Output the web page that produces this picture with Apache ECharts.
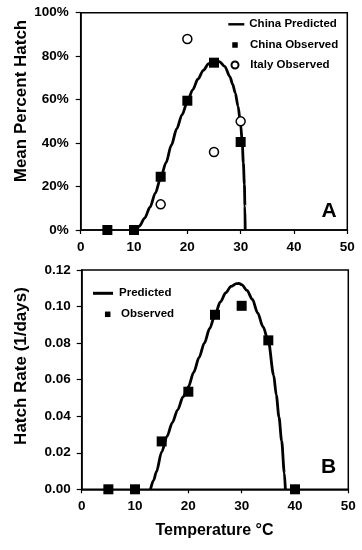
<!DOCTYPE html>
<html>
<head>
<meta charset="utf-8">
<script src="https://cdn.jsdelivr.net/npm/echarts@6.0.0/dist/echarts.min.js"></script>
<style>
html,body{margin:0;padding:0;background:#fff;}
#chart{width:362px;height:550px;}
</style>
</head>
<body>
<div id="chart"></div>
<script>
// ---- Panel A data (Mean Percent Hatch, %) ----
var tempsObs = [5, 10, 15, 20, 25, 30];
var chinaObservedA = [0, 0, 24.5, 59.5, 77, 40.5];
var italyTemps = [15, 20, 25, 30];
var italyObservedA = [11.8, 87.9, 35.9, 50];
var chinaPredTempsA = [10.5, 11, 12, 13, 14, 15, 16, 17, 18, 19, 20, 21, 22, 23, 24, 25, 26, 27, 28, 28.5, 29, 29.5, 30, 30.3, 30.5, 30.7, 30.8, 30.85];
var chinaPredValsA  = [0, 1.8, 5.5, 10.5, 17, 24, 31, 39, 46.5, 53, 59, 64.5, 69.5, 73.5, 76.5, 77.8, 77.5, 75.3, 70.5, 67, 63, 57, 48.5, 40, 31, 21, 11, 0];

// ---- Panel B data (Hatch Rate, 1/days) ----
var tempsObsB = [5, 10, 15, 20, 25, 30, 35, 40];
var observedB = [0, 0, 0.0262, 0.0534, 0.0955, 0.1004, 0.0815, 0];
var predTempsB = [12.9, 13.5, 14, 15, 16, 17, 18, 19, 20, 21, 22, 23, 24, 25, 26, 27, 28, 29, 29.5, 30, 31, 32, 33, 34, 35, 36, 36.5, 37, 37.5, 38, 38.2];
var predValsB  = [0, 0.005, 0.0095, 0.0205, 0.029, 0.0365, 0.0435, 0.0505, 0.056, 0.064, 0.072, 0.080, 0.088, 0.0955, 0.1025, 0.1075, 0.111, 0.1125, 0.1127, 0.112, 0.1088, 0.104, 0.0965, 0.089, 0.0812, 0.0625, 0.0515, 0.0395, 0.0265, 0.009, 0];

// ---- tick labels ----
var xTicks = [0, 10, 20, 30, 40, 50];
var yTicksA = [0, 20, 40, 60, 80, 100];
var yTicksB = [0, 0.02, 0.04, 0.06, 0.08, 0.10, 0.12];

function pairs(xs, ys) { return xs.map(function (x, i) { return [x, ys[i]]; }); }

var FONT = '"Liberation Sans", Arial, sans-serif';
var black = '#000';
var LINE_ICON = 'path://M0,0H20V3H0Z';

function xAxisCfg(gi) {
  return {
    type: 'value', gridIndex: gi, min: xTicks[0], max: xTicks[xTicks.length - 1], interval: 10,
    axisLine: { show: true, onZero: false, lineStyle: { color: black, width: 1.5 } },
    axisTick: { show: true, inside: false, length: 4, lineStyle: { color: black, width: 1.2 } },
    axisLabel: { color: black, fontFamily: FONT, fontWeight: 'bold', fontSize: 13.5, margin: 10 },
    splitLine: { show: false }
  };
}
function legendText(pad) {
  return { color: black, fontFamily: FONT, fontWeight: 'bold', fontSize: 11.5, lineHeight: 14, padding: [0, 0, 0, pad] };
}

var option = {
  backgroundColor: '#fff',
  animation: false,
  textStyle: { fontFamily: FONT },
  grid: [
    { left: 80.7, right: 14.7, top: 12.7, height: 217.3, show: true, borderColor: black, borderWidth: 1.5, backgroundColor: 'transparent' },
    { left: 81.7, right: 13.7, top: 270, height: 219.3, show: true, borderColor: black, borderWidth: 1.5, backgroundColor: 'transparent' }
  ],
  xAxis: [xAxisCfg(0), xAxisCfg(1)],
  yAxis: [
    {
      type: 'value', gridIndex: 0, min: yTicksA[0], max: yTicksA[yTicksA.length - 1], interval: 20,
      axisLine: { show: true, lineStyle: { color: black, width: 1.5 } },
      axisTick: { show: true, inside: false, length: 5, lineStyle: { color: black, width: 1.2 } },
      axisLabel: { color: black, fontFamily: FONT, fontWeight: 'bold', fontSize: 13.5, margin: 12, formatter: '{value}%' },
      splitLine: { show: false }
    },
    {
      type: 'value', gridIndex: 1, min: yTicksB[0], max: yTicksB[yTicksB.length - 1], interval: 0.02,
      axisLine: { show: true, lineStyle: { color: black, width: 1.5 } },
      axisTick: { show: true, inside: false, length: 5, lineStyle: { color: black, width: 1.2 } },
      axisLabel: { color: black, fontFamily: FONT, fontWeight: 'bold', fontSize: 13.5, margin: 11,
        formatter: function (v) { return v.toFixed(2); } },
      splitLine: { show: false }
    }
  ],
  legend: [
    { data: [{ name: 'China Predicted', icon: LINE_ICON }], left: 228.3, top: 17.3, padding: 0, itemWidth: 16, itemHeight: 3,
      itemStyle: { color: black, opacity: 1 }, textStyle: legendText(0) },
    { data: [{ name: 'China Observed', icon: 'rect' }], left: 232.25, top: 38, padding: 0, itemWidth: 5.5, itemHeight: 5.5,
      itemStyle: { opacity: 1 }, textStyle: legendText(7.25) },
    { data: [{ name: 'Italy Observed', icon: 'circle' }], left: 230.5, top: 58, padding: 0, itemWidth: 7, itemHeight: 7,
      itemStyle: { opacity: 1 }, textStyle: legendText(6.8) },
    { data: [{ name: 'Predicted', icon: LINE_ICON }], left: 93, top: 286.3, padding: 0, itemWidth: 22, itemHeight: 3,
      itemStyle: { color: black, opacity: 1 }, textStyle: legendText(0) },
    { data: [{ name: 'Observed', icon: 'rect' }], left: 104.95, top: 307.3, padding: 0, itemWidth: 5.5, itemHeight: 5.5,
      itemStyle: { opacity: 1 }, textStyle: legendText(5.55) }
  ],
  series: [
    { name: 'China Predicted', type: 'line', xAxisIndex: 0, yAxisIndex: 0, data: pairs(chinaPredTempsA, chinaPredValsA),
      showSymbol: false, symbol: 'none', smooth: 0.3, smoothMonotone: 'x', clip: false,
      lineStyle: { color: black, width: 2.8 }, itemStyle: { color: black }, z: 2 },
    { name: 'China Observed', type: 'scatter', xAxisIndex: 0, yAxisIndex: 0, data: pairs(tempsObs, chinaObservedA),
      symbol: 'rect', symbolSize: 10, clip: false, itemStyle: { color: black, opacity: 1 }, z: 3 },
    { name: 'Italy Observed', type: 'scatter', xAxisIndex: 0, yAxisIndex: 0, data: pairs(italyTemps, italyObservedA),
      symbol: 'circle', symbolSize: 9, clip: false, itemStyle: { color: '#fff', borderColor: black, borderWidth: 1.5, opacity: 1 }, z: 3 },
    { name: 'Predicted', type: 'line', xAxisIndex: 1, yAxisIndex: 1, data: pairs(predTempsB, predValsB),
      showSymbol: false, symbol: 'none', smooth: 0.3, smoothMonotone: 'x', clip: false,
      lineStyle: { color: black, width: 2.8 }, itemStyle: { color: black }, z: 2 },
    { name: 'Observed', type: 'scatter', xAxisIndex: 1, yAxisIndex: 1, data: pairs(tempsObsB, observedB),
      symbol: 'rect', symbolSize: 10, clip: false, itemStyle: { color: black, opacity: 1 }, z: 3 }
  ],
  graphic: [
    { type: 'text', x: 21, y: 101, rotation: Math.PI / 2,
      style: { text: 'Mean Percent Hatch', font: 'bold 17px ' + FONT, fill: black, textAlign: 'center', textVerticalAlign: 'middle' } },
    { type: 'text', x: 21, y: 366, rotation: Math.PI / 2,
      style: { text: 'Hatch Rate (1/days)', font: 'bold 17px ' + FONT, fill: black, textAlign: 'center', textVerticalAlign: 'middle' } },
    { type: 'text', x: 214.5, y: 530.5,
      style: { text: 'Temperature °C', font: 'bold 16px ' + FONT, fill: black, textAlign: 'center', textVerticalAlign: 'middle' } },
    { type: 'text', x: 329, y: 211,
      style: { text: 'A', font: 'bold 21px ' + FONT, fill: black, textAlign: 'center', textVerticalAlign: 'middle' } },
    { type: 'text', x: 328.5, y: 467.5,
      style: { text: 'B', font: 'bold 21px ' + FONT, fill: black, textAlign: 'center', textVerticalAlign: 'middle' } }
  ]
};

var chart = echarts.init(document.getElementById('chart'), null, { renderer: 'canvas' });
chart.setOption(option);
</script>
</body>
</html>
